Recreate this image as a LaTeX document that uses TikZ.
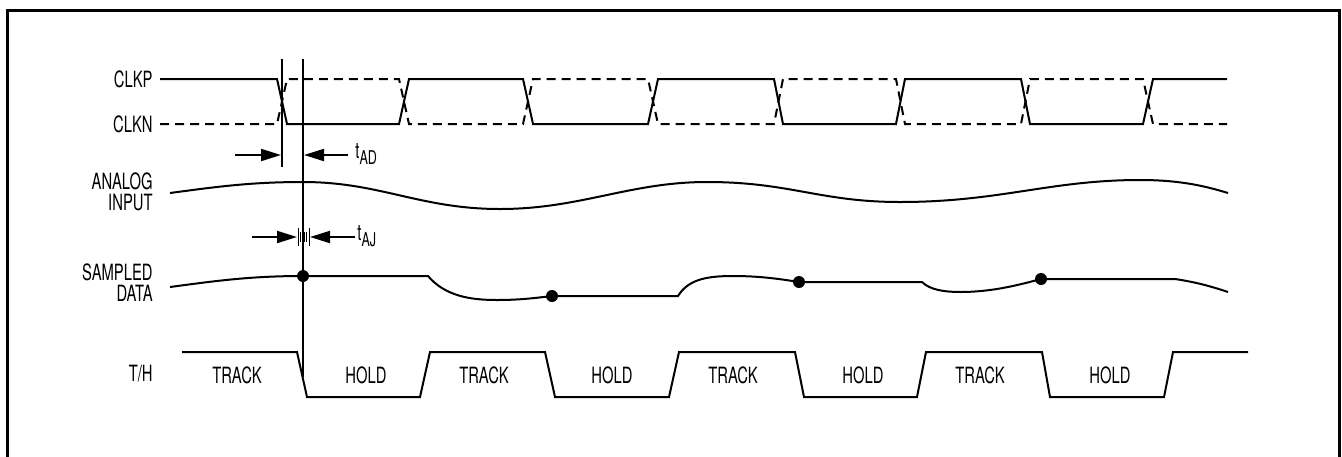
\documentclass[tikz,border=0pt]{standalone}
\usepackage{fontspec}
\setmainfont{TeX Gyre Heros}[FakeStretch=0.66]
\usepackage{tikz}
\usetikzlibrary{arrows.meta}
\newcommand{\tsub}[1]{\raisebox{-0.25em}{\fontsize{9.5}{9.5}\selectfont #1}}

\begin{document}
\begin{tikzpicture}[x=0.5pt,y=-0.5pt]
\tikzset{lbl/.style={inner sep=0pt,font=\fontsize{11.2}{10.5}\selectfont},
    sig/.style={line width=1pt,line join=miter},
    clkn/.style={sig,dash pattern=on 4.5pt off 3pt},
    mark line/.style={line width=0.7pt},
    dim/.style={line width=1pt,-{Triangle[length=10pt,width=6pt]}},
    sample/.style={circle,fill,inner sep=0pt,minimum size=6pt}}
\useasboundingbox (0,0) rectangle (1342,456);
\draw[line width=1.5pt] (7,470) -- (7,10) -- (1339,10) -- (1339,470);
% signal names
\node[lbl,anchor=east] (nclkp) at (153,79) {CLKP};
\node[lbl,anchor=east] (nclkn) at (153,124) {CLKN};
\node[lbl,anchor=east,align=right] (nain) at (153,192) {ANALOG\\INPUT};
\node[lbl,anchor=east,align=right] (nsd) at (153,283) {SAMPLED\\DATA};
\node[lbl,anchor=east] (nth) at (153,374) {T/H};
% differential clock
\draw[sig] (160,79) -- (277,79) -- (287,124) -- (399,124) -- (409,79) -- (523,79)
    -- (533,124) -- (648,124) -- (658,79) -- (774,79) -- (783,124) -- (896,124)
    -- (905,79) -- (1021,79) -- (1030,124) -- (1143,124) -- (1153,79) -- (1227,79);
\draw[clkn] (160,124) -- (277,124) -- (287,79) -- (399,79) -- (409,124) -- (523,124)
    -- (533,79) -- (648,79) -- (658,124) -- (774,124) -- (783,79) -- (896,79)
    -- (905,124) -- (1021,124) -- (1030,79) -- (1143,79) -- (1153,124) -- (1227,124);
% analog input
\draw[sig] (170,193) .. controls (215,187) and (250,182) .. (303,182)
    .. controls (380,182) and (420,209) .. (500,209)
    .. controls (580,209) and (630,182) .. (707,182)
    .. controls (790,182) and (820,202) .. (900,202)
    .. controls (1000,202) and (1050,180) .. (1140,180)
    .. controls (1180,180) and (1205,186) .. (1228,193);
% sampled data
\draw[sig] (170,287) .. controls (215,281) and (250,276) .. (303,276) -- (428,276)
    .. controls (445,296) and (470,300) .. (497,300)
    .. controls (520,300) and (535,298) .. (552,296) -- (678,296)
    .. controls (688,280) and (705,276) .. (733,276)
    .. controls (760,276) and (780,279) .. (799,282) -- (922,282)
    .. controls (930,290) and (945,292) .. (960,292)
    .. controls (990,292) and (1015,286) .. (1041,279) -- (1175,279)
    .. controls (1195,282) and (1210,286) .. (1228,292);
\node[sample] (s1) at (303,276) {};
\node[sample] (s2) at (552,296) {};
\node[sample] (s3) at (799,282) {};
\node[sample] (s4) at (1041,279) {};
% track/hold
\draw[sig] (182,352) -- (297,352) -- (307,397) -- (420,397) -- (430,352) -- (545,352)
    -- (555,397) -- (669,397) -- (679,352) -- (795,352) -- (804,397) -- (917,397)
    -- (926,352) -- (1042,352) -- (1050,397) -- (1164,397) -- (1173,352) -- (1248,352);
\foreach \x/\t [count=\i] in {237/TRACK,366/HOLD,484/TRACK,612/HOLD,733/TRACK,863/HOLD,980/TRACK,1110/HOLD}
    \node[lbl] (ph\i) at (\x,375) {\t};
% aperture delay and jitter
\draw[mark line] (282,59) -- (282,167);
\draw[mark line] (303,59) -- (303,377);
\coordinate (adl) at (235,155);
\coordinate (adlt) at (281,155);
\coordinate (adr) at (348,155);
\coordinate (adrt) at (304,155);
\draw[dim] (adl) -- (adlt);
\draw[dim] (adr) -- (adrt);
\node[lbl,anchor=west] (tad) at (355,154) {t\tsub{AD}};
\foreach \x/\h in {298/9,300.5/5,302.5/5,304.5/5,306.5/5,309/9}
    \draw[line width=0.5pt] (\x,{237-\h}) -- (\x,{237+\h});
\coordinate (ajl) at (252,237);
\coordinate (ajlt) at (297,237);
\coordinate (ajr) at (355,237);
\coordinate (ajrt) at (310,237);
\draw[dim] (ajl) -- (ajlt);
\draw[dim] (ajr) -- (ajrt);
\node[lbl,anchor=west] (taj) at (357,236) {t\tsub{AJ}};
\end{tikzpicture}
\end{document}
